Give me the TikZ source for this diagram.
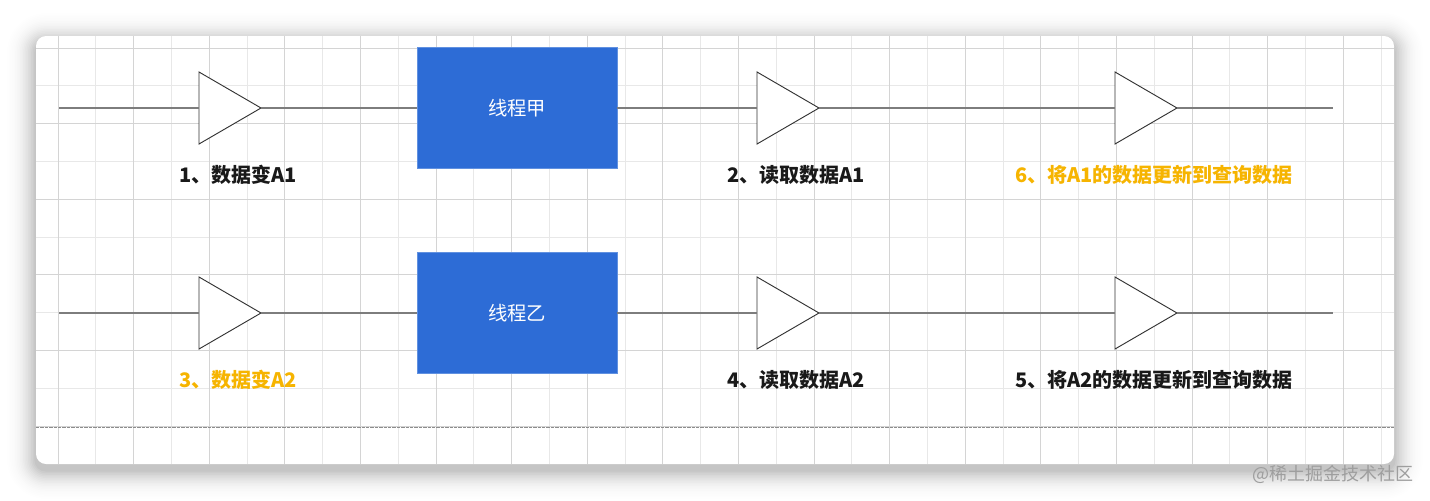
\documentclass[tikz,border=0pt]{standalone}
\usepackage{fontspec}
\newfontfamily\cjk{Noto Sans CJK SC}
\definecolor{lanse}{RGB}{45,108,214}
\definecolor{chengse}{RGB}{246,180,0}
\definecolor{xianse}{RGB}{125,125,125}
\usepackage{tikz}
\usetikzlibrary{shapes.geometric,positioning,calc}

\begin{document}
\begin{tikzpicture}[x=0.75pt,y=-0.75pt,
    gate/.style={isosceles triangle,isosceles triangle stretches,
      draw=black!80,fill=white,line width=0.7pt,inner sep=0pt,outer sep=0pt,
      minimum width=54pt,minimum height=46.5pt,anchor=west},
    hilo/.style={draw=lanse!75!white,fill=lanse,line width=0.5pt,
      minimum width=150pt,minimum height=90.75pt,inner sep=0pt,outer sep=0pt,
      text=white,font=\cjk\fontsize{14.5}{17}\selectfont},
    paso/.style={inner sep=0pt,text=black!90,
      font=\cjk\bfseries\fontsize{15}{18}\selectfont},
    wire/.style={xianse,line width=1.2pt},
    gridmajor/.style={black!17,line width=0.6pt},
    gridminor/.style={black!9,line width=0.6pt}]

      % page and card
      \useasboundingbox (0,0) rectangle (1430,500);
      \fill[white] (0,0) rectangle (1430,500);
      \foreach \i in {1,...,24}{
        \pgfmathsetmacro\rr{(10+\i*1.6)*0.75}
        \pgfmathsetmacro\op{0.03*(1-\i/25)^2}
        \fill[black,opacity=\op,rounded corners=\rr pt]
          (36-\i*1.6,42-\i*1.6) rectangle (1394+\i*1.6,470+\i*1.6);
      }
      \fill[white,rounded corners=7.5pt] (36,36) rectangle (1394,464);

      % grid
      \begin{scope}
        \clip[rounded corners=7.5pt] (36,36) rectangle (1394,464);
        \foreach \k in {1,3,...,35}
          \draw[gridminor] (58+37.8*\k,36) -- (58+37.8*\k,464);
        \foreach \k in {1,3,...,9}
          \draw[gridminor] (36,48+37.8*\k) -- (1394,48+37.8*\k);
        \foreach \k in {0,2,...,34}
          \draw[gridmajor] (58+37.8*\k,36) -- (58+37.8*\k,464);
        \foreach \k in {0,2,...,10}
          \draw[gridmajor] (36,48+37.8*\k) -- (1394,48+37.8*\k);
      \end{scope}
      \draw[black!45,line width=0.5pt,dash pattern=on 2.5pt off 0.8pt]
        (36,427) -- (1394,427);

      % row 1
      \coordinate (s1) at (59,108);
      \coordinate (e1) at (1333,108);
      \node[gate] (g1) at (199,108) {};
      \node[hilo] (b1) at (517,108) {线程甲};
      \node[gate] (g2) at (757,108) {};
      \node[gate] (g3) at (1115,108) {};

      \draw[wire] (s1) -- (g1.west);
      \draw[wire] (g1.apex) -- (b1.west);
      \draw[wire] (b1.east) -- (g2.west);
      \draw[wire] (g2.apex) -- (g3.west);
      \draw[wire] (g3.apex) -- (e1);

      \node[paso] (l1) at ($(g1.west)+(39,67)$) {1、数据变A1};
      \node[paso] (l2) at ($(g2.west)+(39,67)$) {2、读取数据A1};
      \node[paso,text=chengse] (l6) at ($(g3.west)+(39,67)$)
        {6、将A1的数据更新到查询数据};

      % row 2
      \coordinate (s2) at (59,313);
      \coordinate (e2) at (1333,313);
      \node[gate] (g4) at (199,313) {};
      \node[hilo] (b2) at (517,313) {线程乙};
      \node[gate] (g5) at (757,313) {};
      \node[gate] (g6) at (1115,313) {};

      \draw[wire] (s2) -- (g4.west);
      \draw[wire] (g4.apex) -- (b2.west);
      \draw[wire] (b2.east) -- (g5.west);
      \draw[wire] (g5.apex) -- (g6.west);
      \draw[wire] (g6.apex) -- (e2);

      \node[paso,text=chengse] (l3) at ($(g4.west)+(39,67)$) {3、数据变A2};
      \node[paso] (l4) at ($(g5.west)+(39,67)$) {4、读取数据A2};
      \node[paso] (l5) at ($(g6.west)+(39,67)$)
        {5、将A2的数据更新到查询数据};

      % watermark
      \node[text=black!38,font=\cjk\fontsize{13.5}{16}\selectfont,inner sep=0pt]
        (wm) at (1333,474) {@稀土掘金技术社区};
    \end{tikzpicture}
\end{document}
